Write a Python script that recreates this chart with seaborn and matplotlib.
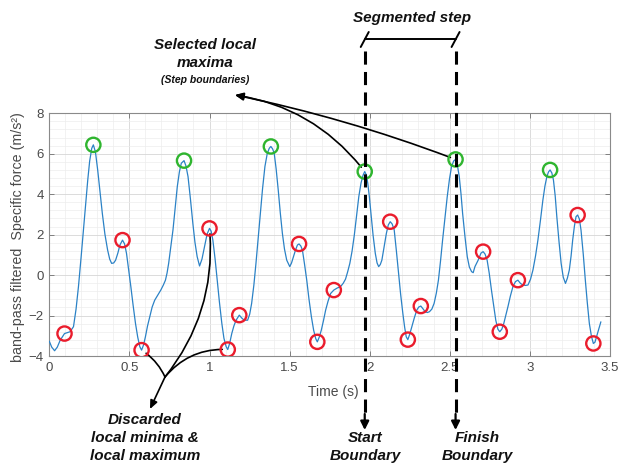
import numpy as np
import pandas as pd
import matplotlib.pyplot as plt
import seaborn as sns
from matplotlib.transforms import blended_transform_factory
from matplotlib.ticker import MultipleLocator

# signal (time in s, band-pass filtered specific force in m/s^2)
time_s = [0.000, 0.015, 0.033, 0.050, 0.068, 0.095, 0.130, 0.151, 0.167, 0.182,
          0.198, 0.213, 0.227, 0.240, 0.252, 0.265, 0.275, 0.288, 0.302, 0.316,
          0.331, 0.347, 0.364, 0.377, 0.389, 0.402, 0.414, 0.428, 0.441, 0.457,
          0.470, 0.482, 0.495, 0.509, 0.523, 0.538, 0.552, 0.565, 0.576, 0.588,
          0.600, 0.613, 0.627, 0.642, 0.658, 0.677, 0.696, 0.712, 0.725, 0.735,
          0.745, 0.758, 0.772, 0.786, 0.799, 0.812, 0.824, 0.841, 0.853, 0.866,
          0.881, 0.896, 0.909, 0.923, 0.938, 0.953, 0.969, 0.985, 1.000, 1.010,
          1.021, 1.035, 1.048, 1.062, 1.077, 1.090, 1.104, 1.114, 1.126, 1.139,
          1.152, 1.166, 1.186, 1.202, 1.217, 1.238, 1.251, 1.263, 1.277, 1.290,
          1.304, 1.317, 1.331, 1.346, 1.360, 1.373, 1.383, 1.394, 1.404, 1.416,
          1.429, 1.442, 1.455, 1.468, 1.482, 1.501, 1.512, 1.524, 1.537, 1.549,
          1.559, 1.570, 1.580, 1.593, 1.607, 1.621, 1.636, 1.650, 1.663, 1.673,
          1.685, 1.698, 1.712, 1.725, 1.740, 1.756, 1.776, 1.797, 1.818, 1.835,
          1.849, 1.862, 1.876, 1.890, 1.904, 1.918, 1.932, 1.946, 1.959, 1.969,
          1.979, 1.988, 1.998, 2.008, 2.021, 2.035, 2.046, 2.056, 2.066, 2.076,
          2.090, 2.104, 2.116, 2.128, 2.140, 2.153, 2.166, 2.180, 2.193, 2.207,
          2.218, 2.228, 2.238, 2.250, 2.263, 2.278, 2.294, 2.306, 2.319, 2.332,
          2.346, 2.360, 2.373, 2.388, 2.402, 2.416, 2.429, 2.442, 2.455, 2.470,
          2.484, 2.498, 2.511, 2.524, 2.536, 2.548, 2.559, 2.570, 2.580, 2.595,
          2.609, 2.622, 2.636, 2.646, 2.657, 2.677, 2.695, 2.708, 2.720, 2.733,
          2.746, 2.760, 2.774, 2.787, 2.800, 2.812, 2.825, 2.837, 2.850, 2.863,
          2.878, 2.894, 2.910, 2.925, 2.941, 2.957, 2.973, 2.988, 3.004, 3.019,
          3.035, 3.050, 3.066, 3.081, 3.094, 3.106, 3.116, 3.126, 3.137, 3.147,
          3.158, 3.168, 3.182, 3.195, 3.208, 3.222, 3.234, 3.246, 3.257, 3.267,
          3.278, 3.288, 3.298, 3.309, 3.319, 3.333, 3.346, 3.358, 3.371, 3.384,
          3.396, 3.406, 3.416, 3.430, 3.443]
force = [-3.27, -3.56, -3.74, -3.56, -3.22, -2.89, -2.80, -2.55, -1.68, -0.57,
         0.84, 2.23, 3.52, 4.70, 5.64, 6.27, 6.44, 6.09, 5.20, 4.16,
         3.05, 2.03, 1.24, 0.79, 0.58, 0.60, 0.74, 1.09, 1.49, 1.73,
         1.54, 1.07, 0.30, -0.57, -1.48, -2.39, -3.07, -3.54, -3.71, -3.46,
         -3.05, -2.52, -2.06, -1.58, -1.24, -0.99, -0.74, -0.49, -0.25, 0.10,
         0.58, 1.39, 2.23, 3.37, 4.38, 5.10, 5.53, 5.66, 5.40, 4.87,
         3.76, 2.56, 1.63, 0.91, 0.45, 0.79, 1.41, 2.03, 2.31, 2.18,
         1.73, 0.79, -0.25, -1.34, -2.39, -3.12, -3.54, -3.68, -3.37, -2.89,
         -2.52, -2.23, -1.98, -2.13, -2.23, -2.23, -1.93, -1.40, -0.49, 0.58,
         1.83, 3.05, 4.26, 5.37, 5.99, 6.27, 6.36, 6.24, 6.02, 5.25,
         4.21, 3.07, 2.06, 1.29, 0.74, 0.42, 0.60, 0.91, 1.24, 1.49,
         1.54, 1.44, 1.24, 0.55, -0.25, -1.19, -2.06, -2.72, -3.14, -3.30,
         -3.07, -2.72, -2.23, -1.73, -1.29, -0.91, -0.74, -0.64, -0.57, -0.40,
         -0.20, 0.15, 0.58, 1.19, 1.98, 2.92, 3.88, 4.56, 4.95, 5.12,
         4.95, 4.54, 3.86, 3.05, 1.98, 1.07, 0.60, 0.42, 0.52, 0.74,
         1.39, 2.06, 2.48, 2.64, 2.53, 2.23, 1.24, 0.08, -0.94, -1.90,
         -2.57, -3.05, -3.19, -2.92, -2.55, -2.13, -1.73, -1.58, -1.53, -1.66,
         -1.81, -1.85, -1.81, -1.68, -1.40, -0.89, -0.25, 0.69, 1.73, 2.82,
         3.88, 4.75, 5.37, 5.64, 5.72, 5.40, 4.87, 4.01, 3.05, 1.88,
         0.91, 0.40, 0.17, 0.12, 0.42, 0.74, 1.09, 1.16, 1.04, 0.74,
         0.10, -0.74, -1.53, -2.23, -2.67, -2.80, -2.67, -2.39, -1.98, -1.56,
         -1.04, -0.57, -0.32, -0.25, -0.41, -0.49, -0.51, -0.49, -0.20, 0.25,
         0.94, 1.73, 2.72, 3.71, 4.41, 4.87, 5.10, 5.20, 5.05, 4.70,
         3.91, 2.89, 1.63, 0.58, -0.10, -0.41, -0.15, 0.25, 0.94, 1.73,
         2.43, 2.89, 2.97, 2.77, 2.23, 1.04, -0.25, -1.34, -2.39, -3.02,
         -3.38, -3.32, -3.05, -2.67, -2.31]

# selected local maxima (step boundaries)
max_t = [0.275, 0.841, 1.383, 1.969, 2.536, 3.126]
max_f = [6.44, 5.66, 6.36, 5.12, 5.72, 5.20]

# discarded local minima / maxima
disc_t = [0.095, 0.457, 0.576, 1.000, 1.114, 1.186, 1.559, 1.673, 1.776,
          2.128, 2.238, 2.319, 2.708, 2.812, 2.925, 3.298, 3.396]
disc_f = [-2.89, 1.73, -3.71, 2.31, -3.68, -1.98, 1.54, -3.30, -0.74,
          2.64, -3.19, -1.53, 1.16, -2.80, -0.25, 2.97, -3.38]

x_ticks = [0, 0.5, 1, 1.5, 2, 2.5, 3, 3.5]
x_ticklabels = ['0', '0.5', '1', '1.5', '2', '2.5', '3', '3.5']
y_ticks = [-4, -2, 0, 2, 4, 6, 8]

W, H = 618, 465
FONT = ['Liberation Sans', 'DejaVu Sans']

sns.set_style('white')
plt.rcParams['font.family'] = FONT

df = pd.DataFrame({'time': time_s, 'force': force})

fig = plt.figure(figsize=(W / 100, H / 100), dpi=100)
ax = fig.add_axes([49.3 / W, 1 - 356 / H, (610 - 49.3) / W, (356 - 113.3) / H])

sns.lineplot(data=df, x='time', y='force', sort=False, estimator=None,
             color='#2b82c6', linewidth=0.9, ax=ax, zorder=3)

sns.scatterplot(x=max_t, y=max_f, s=105, marker='o', linewidth=1.7, ax=ax, zorder=4)
ax.collections[-1].set_facecolor('none')
ax.collections[-1].set_edgecolor('#2fb52f')
sns.scatterplot(x=disc_t, y=disc_f, s=105, marker='o', linewidth=1.7, ax=ax, zorder=4)
ax.collections[-1].set_facecolor('none')
ax.collections[-1].set_edgecolor('#ea1c2c')

ax.set_xlim(0, 3.5)
ax.set_ylim(-4, 8)
ax.set_xticks(x_ticks)
ax.set_xticklabels(x_ticklabels)
ax.set_yticks(y_ticks)
ax.xaxis.set_minor_locator(MultipleLocator(0.1))
ax.yaxis.set_minor_locator(MultipleLocator(0.4))
ax.grid(which='major', color='#d6d6d6', linewidth=0.6)
ax.grid(which='minor', color='#ededed', linewidth=0.5)
ax.set_axisbelow(True)
ax.tick_params(which='major', direction='in', length=3.5, width=0.6, color='#707070',
               labelsize=9.5, labelcolor='#4a4a4a', pad=4,
               top=True, right=True, bottom=True, left=True)
ax.tick_params(which='minor', length=0)
for s in ax.spines.values():
    s.set_color('#8a8a8a')
    s.set_linewidth(0.8)

ax.set_xlabel('Time (s)', fontsize=10, color='#4a4a4a')
ax.set_ylabel('band-pass filtered  Specific force (m/s²)', fontsize=10.3, color='#4a4a4a')
ax.xaxis.set_label_coords(0.506, -0.118)
ax.yaxis.set_label_coords(-0.044, 0.49)


def fpx(x, y):
    # figure pixel from top-left pixel
    return (x, H - y)


bold = dict(fontsize=11, fontweight='bold', fontstyle='italic', family=FONT,
            color='#111111', ha='center', va='center', linespacing=1.35)

# segmented step bracket and boundary lines
trans = blended_transform_factory(ax.transData, fig.transFigure)
t_start, t_end = max_t[3], max_t[4]
for t in (t_start, t_end):
    ax.plot([t, t], [1 - 51 / H, 1 - 416 / H], transform=trans, color='black',
            lw=2.2, dashes=(4.3, 2.4), clip_on=False, zorder=5)
    ax.annotate('', xy=(t, 1 - 430 / H), xycoords=trans,
                xytext=(t, 1 - 414 / H), textcoords=trans,
                arrowprops=dict(arrowstyle='-|>,head_length=0.5,head_width=0.25',
                                color='black', lw=1.6, shrinkA=0, shrinkB=0))
ax.plot([t_start, t_end], [1 - 39.5 / H, 1 - 39.5 / H], transform=trans,
        color='black', lw=1.4, clip_on=False)
for t in (t_start, t_end):
    xp = ax.transData.transform((t, 0))[0]
    fig.add_artist(plt.Line2D([(xp - 4) / W, (xp + 4) / W], [1 - 47 / H, 1 - 32 / H],
                              color='black', lw=1.4))

fig.text(412 / W, 1 - 18 / H, 'Segmented step', **bold)
fig.text(365 / W, 1 - 447 / H, 'Start\nBoundary', **bold)
fig.text(477 / W, 1 - 447 / H, 'Finish\nBoundary', **bold)

# selected maxima annotation
fig.text(205 / W, 1 - 54 / H, 'Selected local\nmaxima', **bold)
fig.text(205 / W, 1 - 80 / H, '(Step boundaries)', **{**bold, 'fontsize': 7.5})
for i, rad in ((3, 0.2), (4, 0.04)):
    ax.annotate('', xy=fpx(235, 95), xycoords='figure pixels',
                xytext=(max_t[i], max_f[i]), textcoords='data',
                arrowprops=dict(arrowstyle='-|>,head_length=0.5,head_width=0.22',
                                connectionstyle=f'arc3,rad={rad}', color='black',
                                lw=1.2, shrinkA=4, shrinkB=0))

# discarded extrema annotation
fig.text(145 / W, 1 - 438 / H, 'Discarded\nlocal minima &\nlocal maximum', **bold)
junction = fpx(165, 377)
for i, rad in ((2, -0.15), (4, 0.25), (3, -0.2)):
    ax.annotate('', xy=junction, xycoords='figure pixels',
                xytext=(disc_t[i], disc_f[i]), textcoords='data',
                annotation_clip=False,
                arrowprops=dict(arrowstyle='-', connectionstyle=f'arc3,rad={rad}',
                                color='black', lw=1.2, shrinkA=4, shrinkB=0))
ax.annotate('', xy=fpx(150, 409), xycoords='figure pixels',
            xytext=junction, textcoords='figure pixels',
            arrowprops=dict(arrowstyle='-|>,head_length=0.5,head_width=0.22',
                            color='black', lw=1.2, shrinkA=0, shrinkB=0))

plt.savefig('out.png', dpi=100)
